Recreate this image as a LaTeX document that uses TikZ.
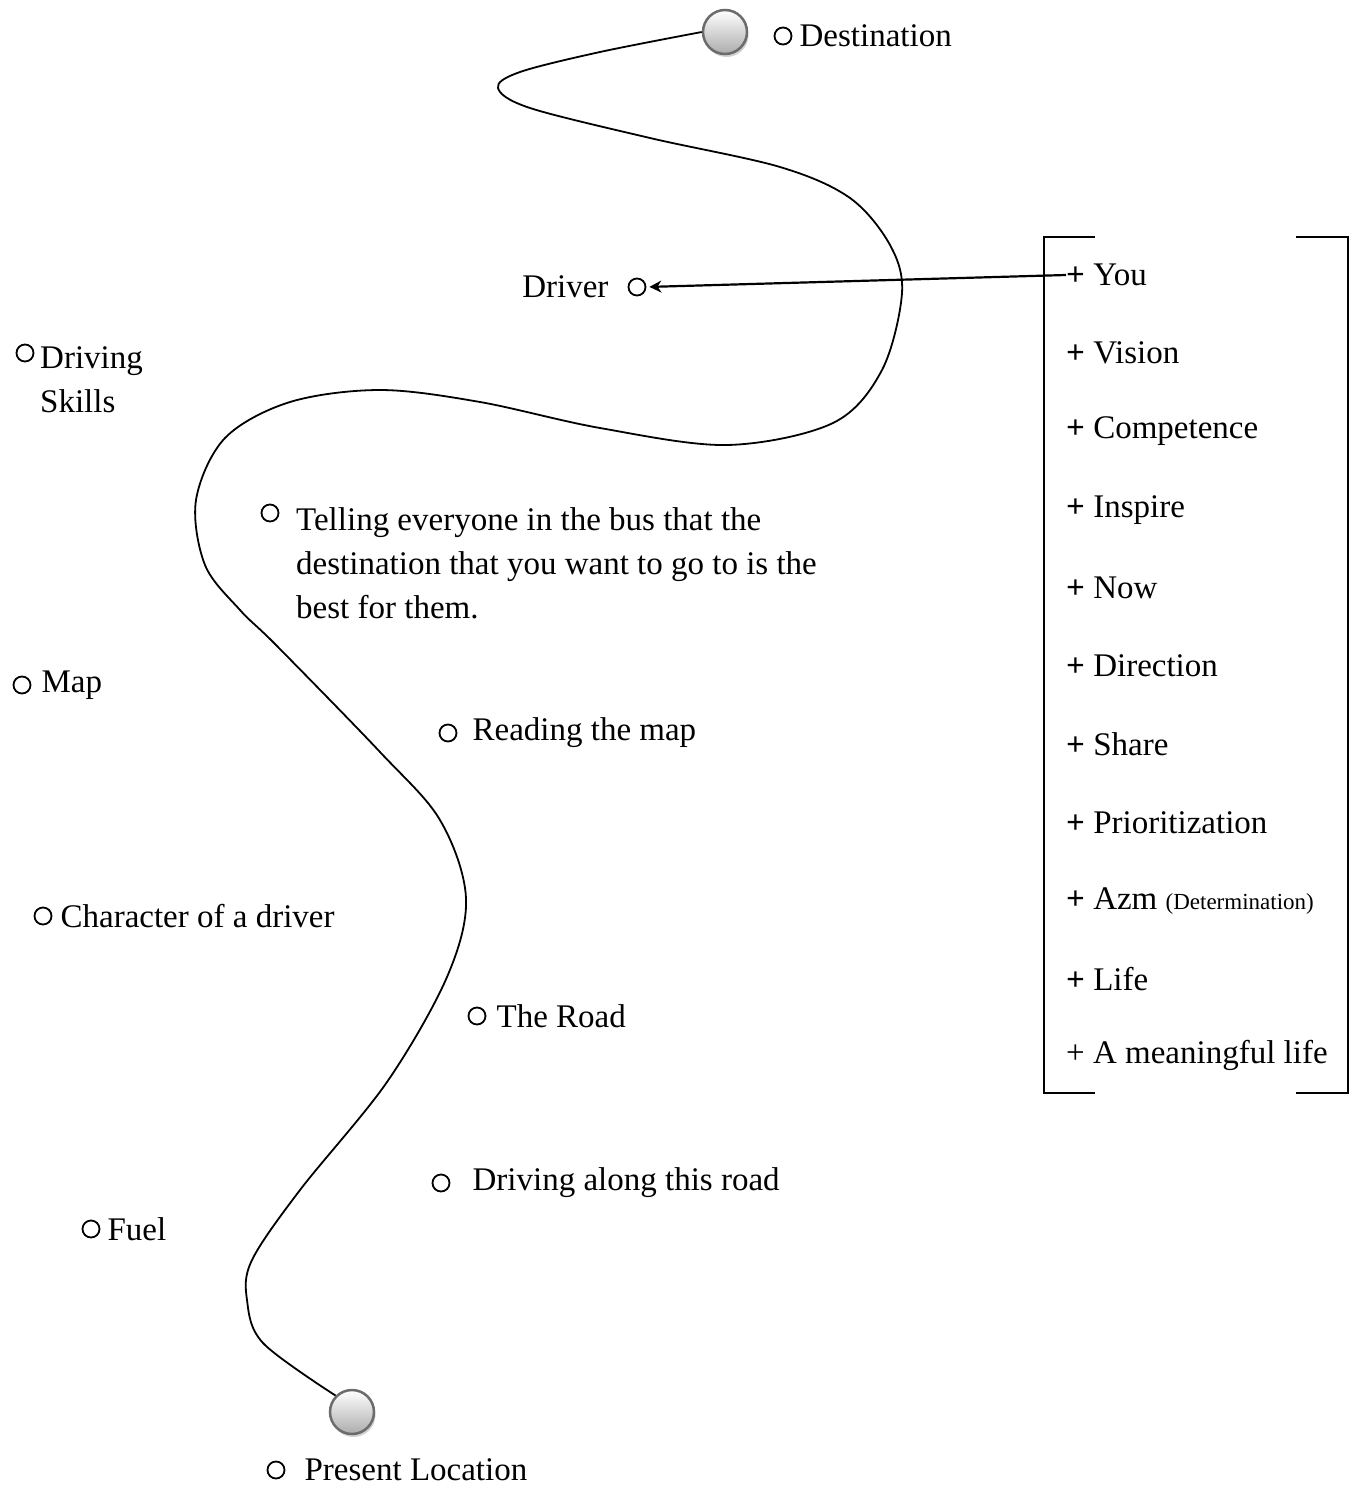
\documentclass[tikz,border=0pt]{standalone}
\usepackage{fontspec}
\setmainfont{Liberation Serif}
\usetikzlibrary{arrows.meta,positioning,shadows}

\begin{document}
\begin{tikzpicture}[
    x=1pt, y=-1pt,
    every node/.style={font=\fontsize{33}{44}\selectfont},
    ball/.style={
        circle, minimum size=44pt, inner sep=0pt,
        draw=gray!85!black, line width=2.5pt,
        top color=white, bottom color=gray!65,
        drop shadow={shadow xshift=1.5pt, shadow yshift=-3pt, fill=gray!60, opacity=0.6},
    },
    bul/.style={circle, draw, line width=1.8pt, minimum size=17pt, inner sep=0pt},
    lbl/.style={inner sep=0pt, align=left},
    item/.style={anchor=west, inner sep=0pt},
    road/.style={line width=1.8pt},
    arrow/.style={-{Stealth[length=12pt,width=12pt]}, line width=2.2pt},
    bracket/.style={line width=2.2pt},
]

\useasboundingbox (0,0) rectangle (1355,1486);

% End points of the road
\node[ball] (dest) at (725,32) {};
\node[ball] (here) at (352,1412) {};

% The road
\draw[road] plot[smooth, tension=0.55] coordinates {
    (dest.west) (600,52) (520,72) (498,88) (530,108) (650,138) (780,167)
    (850,198) (890,245) (902,293) (882,370) (833,423) (727,445) (600,428)
    (480,402) (380,390) (290,402) (225,438) (196,500) (205,565) (240,610)
    (277,646) (380,752) (440,820) (466,898) (447,977) (387,1082) (300,1190)
    (252,1260) (247,1300) (263,1343) (here.north west)
};

% Labels along the road
\node[bul] (dDest) at (783,36) {};
\node[lbl, right=7pt of dDest] (destination) {Destination};

\node[bul] (dDriver) at (637,287) {};
\node[lbl, left=19pt of dDriver] (driver) {Driver};

\node[bul] (dSkills) at (25,353) {};
\node[lbl, anchor=north west] (skills) at (40,346) {Driving\\Skills};

\node[bul] (dTell) at (270,513) {};
\node[lbl, anchor=north west] (telling) at (296,507)
    {Telling everyone in the bus that the\\destination that you want to go to is the\\best for them.};

\node[bul] (dMap) at (22,685) {};
\node[lbl, right=10pt of dMap] (map) {Map};

\node[bul] (dRead) at (448,733) {};
\node[lbl, right=15pt of dRead] (reading) {Reading the map};

\node[bul] (dChar) at (43,916) {};
\node[lbl, right=8pt of dChar] (character) {Character of a driver};

\node[bul] (dRoad) at (477,1016) {};
\node[lbl, right=10pt of dRoad] (theroad) {The Road};

\node[bul] (dAlong) at (441,1183) {};
\node[lbl, right=22pt of dAlong] (along) {Driving along this road};

\node[bul] (dFuel) at (91,1229) {};
\node[lbl, right=7pt of dFuel] (fuel) {Fuel};

\node[bul] (dHere) at (276,1470) {};
\node[lbl, right=19pt of dHere] (present) {Present Location};

% Bracketed list
\foreach \txt [count=\i] in {You, Vision, Competence, Inspire, Now, Direction,
    Share, Prioritization, {Azm {\fontsize{23}{23}\selectfont (Determination)}}, Life}
    \node[item] (item\i) at (1066,{275+78.2*(\i-1)}) {\textbf{+} \txt};
\node[item] (item11) at (1066,1055) {+ A meaningful life};

\draw[bracket] (1095,237) -| (1044,1093) -- (1095,1093);
\draw[bracket] (1296,237) -| (1348,1093) -- (1296,1093);

\draw[arrow, shorten >=3pt] (item1.west) -- (dDriver.east);

\end{tikzpicture}
\end{document}
